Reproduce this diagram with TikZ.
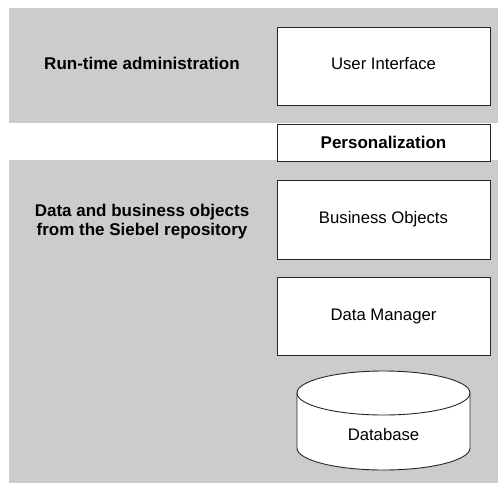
\documentclass[tikz,border=0pt]{standalone}
\usepackage{fontspec}
\setmainfont{Liberation Sans}
\definecolor{band}{HTML}{CCCCCC}
\begin{document}
\begin{tikzpicture}[x=1pt,y=-1pt,
  box/.style={draw=black!85,fill=white,line width=0.9pt},
  lbl/.style={font=\fontsize{16.7}{19}\selectfont},
  blbl/.style={font=\fontsize{17}{19.5}\selectfont\bfseries,align=center}]
\useasboundingbox (0,0) rectangle (498,483);
\fill[band] (9,8) rectangle (498,123);
\fill[band] (9,160) rectangle (498,483);
\draw[box] (277,27) rectangle (490,105);
\node[lbl] (ui) at (383.5,64) {User Interface};
\draw[box] (277,124) rectangle (490,161);
\node[blbl] (pers) at (383.5,142.5) {Personalization};
\draw[box] (277,180) rectangle (490,259);
\node[lbl] (bo) at (383.5,219) {Business Objects};
\draw[box] (277,277) rectangle (490,355);
\node[lbl] (dm) at (383.5,316) {Data Manager};
% database cylinder
\draw[box] (297,393) -- (297,448) arc[start angle=180,end angle=0,x radius=86.5,y radius=22] -- (470,393) arc[start angle=0,end angle=-180,x radius=86.5,y radius=22] -- cycle;
\draw[black!85,line width=0.9pt] (297,393) arc[start angle=180,end angle=0,x radius=86.5,y radius=22];
\node[lbl] (db) at (383.5,435) {Database};
\node[blbl] (rt) at (142,63) {Run-time administration};
\node[blbl] (dbo) at (142,221.5) {Data and business objects\\from the Siebel repository};
\end{tikzpicture}
\end{document}
